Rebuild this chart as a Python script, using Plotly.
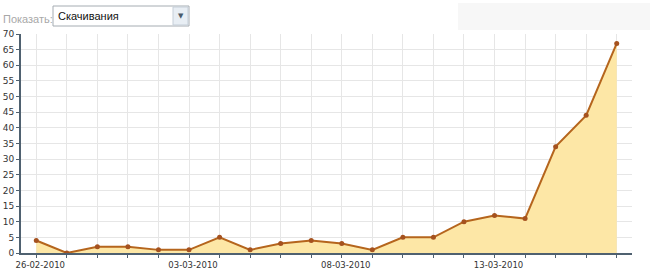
import plotly.graph_objects as go

dates = ["26-02-2010", "27-02-2010", "28-02-2010", "01-03-2010", "02-03-2010",
         "03-03-2010", "04-03-2010", "05-03-2010", "06-03-2010", "07-03-2010",
         "08-03-2010", "09-03-2010", "10-03-2010", "11-03-2010", "12-03-2010",
         "13-03-2010", "14-03-2010", "15-03-2010", "16-03-2010", "17-03-2010"]
downloads = [4, 0, 2, 2, 1, 1, 5, 1, 3, 4, 3, 1, 5, 5, 10, 12, 11, 34, 44, 67]
shown_labels = ["26-02-2010", "03-03-2010", "08-03-2010", "13-03-2010"]
y_ticks = list(range(0, 71, 5))

idx = list(range(len(dates)))
ticktext = [d if d in shown_labels else "" for d in dates]

fig = go.Figure()
fig.add_trace(go.Scatter(
    x=idx, y=downloads, mode="lines+markers",
    line=dict(color="#b5651d", width=2),
    marker=dict(color="#a5521f", size=5),
    fill="tozeroy", fillcolor="#fde7a6",
    hoverinfo="skip", showlegend=False,
))

axis_col = "#4f6170"
L, R, T, B = 21, 18, 34, 19
PW, PH = 650 - L - R, 272 - T - B


def px(x):
    return (x - L) / PW


def py(y):
    return (272 - B - y) / PH


fig.update_layout(
    width=650, height=272,
    margin=dict(l=L, r=R, t=T, b=B, autoexpand=False),
    paper_bgcolor="white", plot_bgcolor="white",
    font=dict(family="DejaVu Sans", size=9, color="#333333"),
    xaxis=dict(
        range=[-0.5, 19.5], tickmode="array", tickvals=idx, ticktext=ticktext,
        showgrid=True, gridcolor="#e6e6e6", gridwidth=1,
        showline=True, linecolor=axis_col, linewidth=2,
        ticks="outside", ticklen=3, tickcolor=axis_col, zeroline=False,
        tickfont=dict(size=8.5, color="#333333"), automargin=False,
        ticklabelshift=4,
    ),
    yaxis=dict(
        range=[0, 70], tickmode="array", tickvals=y_ticks,
        showgrid=True, gridcolor="#e6e6e6", gridwidth=1,
        showline=True, linecolor=axis_col, linewidth=2,
        ticks="outside", ticklen=3, tickcolor=axis_col, zeroline=False,
        tickfont=dict(size=9, color="#333333"), automargin=False,
    ),
    shapes=[
        dict(type="rect", xref="paper", yref="paper",
             x0=px(458), x1=px(650), y0=py(30), y1=py(3),
             fillcolor="#f7f7f7", line=dict(width=0), layer="below"),
        dict(type="rect", xref="paper", yref="paper",
             x0=px(53), x1=px(189), y0=py(26), y1=py(6),
             fillcolor="white", line=dict(color="#a5acb2", width=1)),
        dict(type="rect", xref="paper", yref="paper",
             x0=px(173), x1=px(188), y0=py(25), y1=py(7),
             fillcolor="#e8eef4", line=dict(color="#c5ced8", width=1)),
    ],
    annotations=[
        dict(text="Показать:", xref="paper", yref="paper",
             x=px(1), y=py(19),
             xanchor="left", yanchor="middle", showarrow=False,
             font=dict(family="Arial", size=11, color="#a8a8a8")),
        dict(text="Скачивания", xref="paper", yref="paper",
             x=px(56), y=py(16),
             xanchor="left", yanchor="middle", showarrow=False,
             font=dict(family="Arial", size=11, color="#111111")),
        dict(text="▼", xref="paper", yref="paper",
             x=px(180.5), y=py(16),
             xanchor="center", yanchor="middle", showarrow=False,
             font=dict(family="DejaVu Sans", size=7, color="#4a5a6a")),
    ],
)

fig.write_html("out.html")
